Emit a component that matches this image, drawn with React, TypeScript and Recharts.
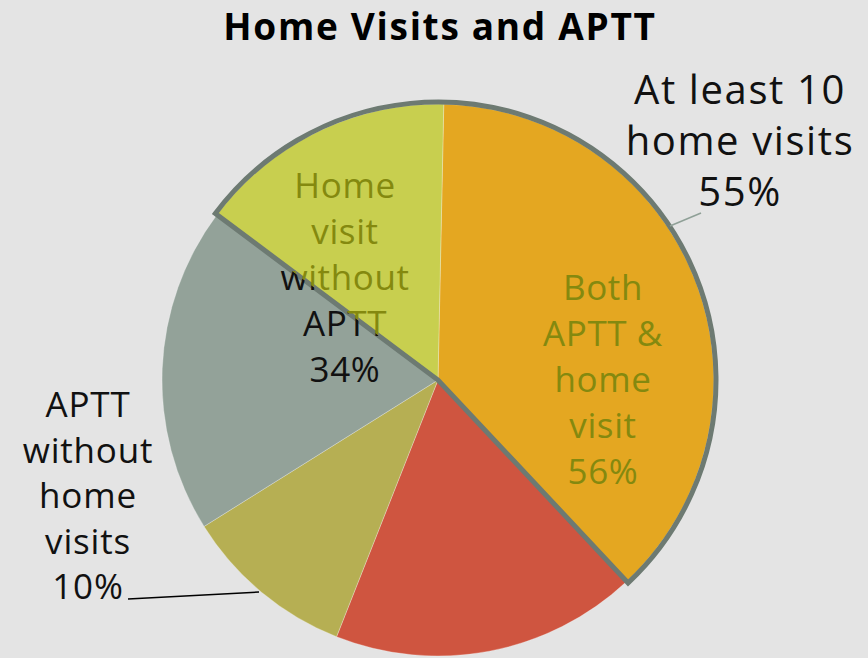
import React from "react";
import { PieChart, Pie, Cell } from "recharts";

// slices, clockwise from 12 o'clock (share of the circle)
const sliceNames = [
  "Both APTT & home visit",
  "Other",
  "APTT without home visits",
  "No APTT",
  "Home visit without APTT",
];
const sliceValues = [37.7, 17.9, 10.1, 19.1, 15.1];
const sliceColors = ["#E4A721", "#CF5540", "#B6AF53", "#93A299", "#C8CF4F"];

// outlined group: "At least 10 home visits"
const groupNames = ["At least 10 home visits", "rest"];
const groupValues = [52.8, 47.2];

const title = "Home Visits and APTT";
const labelBoth = ["Both", "APTT &", "home", "visit", "56%"];
const labelHomeOnly = ["Home", "visit", "without", "APTT", "34%"];
const labelApttOnly = ["APTT", "without", "home", "visits", "10%"];
const labelGroup = ["At least 10", "home visits", "55%"];

const W = 868;
const H = 658;
const CX = 438;
const CY = 380;
const R = 276;
const START = 88.8;

const FONT = "'Open Sans', 'DejaVu Sans', sans-serif";
const OLIVE = "#84890F";
const OUTLINE = "#6D7A72";

const slices = sliceNames.map((name, i) => ({ name, value: sliceValues[i] }));
const group = groupNames.map((name, i) => ({ name, value: groupValues[i] }));

const total = sliceValues.reduce((a, b) => a + b, 0);
// start of the outlined group = start of the last slice
const groupStart = START - (sliceValues.slice(0, 4).reduce((a, b) => a + b, 0) / total) * 360;

const Lines = ({ lines, x, y, step, size, fill, spacing = 0 }: any) => (
  <>
    {lines.map((t: string, i: number) => (
      <text
        key={i}
        x={x}
        y={y + i * step}
        textAnchor="middle"
        fontFamily={FONT}
        fontSize={size}
        letterSpacing={spacing}
        fill={fill}
      >
        {t}
      </text>
    ))}
  </>
);

const Overlay = () => {
  const a = (groupStart * Math.PI) / 180;
  const d = [Math.cos(a), -Math.sin(a)];
  const n = [Math.cos(a + Math.PI / 2), -Math.sin(a + Math.PI / 2)];
  const poly = (s: number) => {
    const A = [CX + d[0] * 2000, CY + d[1] * 2000];
    const B = [CX - d[0] * 2000, CY - d[1] * 2000];
    const C = [B[0] + s * n[0] * 2000, B[1] + s * n[1] * 2000];
    const D = [A[0] + s * n[0] * 2000, A[1] + s * n[1] * 2000];
    return [A, B, C, D].map((p) => p.join(",")).join(" ");
  };
  return (
    <svg
      width={W}
      height={H}
      style={{ position: "absolute", left: 0, top: 0, pointerEvents: "none" }}
    >
      <defs>
        <clipPath id="outside">
          <polygon points={poly(1)} />
        </clipPath>
        <clipPath id="inside">
          <polygon points={poly(-1)} />
        </clipPath>
      </defs>
      <text
        x={440}
        y={40}
        textAnchor="middle"
        fontFamily={FONT}
        fontWeight="bold"
        fontSize={37}
        letterSpacing={1.7}
        fill="#000"
      >
        {title}
      </text>
      <Lines lines={labelBoth} x={603} y={300} step={46} size={35} spacing={0.6} fill={OLIVE} />
      <g clipPath="url(#outside)">
        <Lines lines={labelHomeOnly} x={345} y={198} step={46} size={35} spacing={0.6} fill="#111" />
      </g>
      <g clipPath="url(#inside)">
        <Lines lines={labelHomeOnly} x={345} y={198} step={46} size={35} spacing={0.6} fill={OLIVE} />
      </g>
      <Lines lines={labelApttOnly} x={88} y={417} step={45.5} size={35} spacing={0.8} fill="#111" />
      <Lines lines={labelGroup} x={740} y={104} step={51} size={40} spacing={1.6} fill="#111" />
      <line x1={128} y1={599} x2={259} y2={592} stroke="#000" strokeWidth={1.5} />
      <line x1={670} y1={226} x2={701} y2={213} stroke="#8FA097" strokeWidth={1.5} />
    </svg>
  );
};

export default function App() {
  return (
    <div
      style={{
        position: "absolute",
        left: 0,
        top: 0,
        width: W,
        height: H,
        background: "#E4E4E4",
      }}
    >
      <PieChart width={W} height={H} margin={{ top: 0, right: 0, bottom: 0, left: 0 }}>
        <Pie
          data={slices}
          dataKey="value"
          nameKey="name"
          cx={CX}
          cy={CY}
          outerRadius={R}
          startAngle={START}
          endAngle={START - 360}
          stroke="rgba(255,255,255,0.35)"
          strokeWidth={0.8}
          isAnimationActive={false}
        >
          {slices.map((s, i) => (
            <Cell key={s.name} fill={sliceColors[i]} />
          ))}
        </Pie>
        <Pie
          data={group}
          dataKey="value"
          nameKey="name"
          cx={CX}
          cy={CY}
          outerRadius={R + 2}
          startAngle={groupStart}
          endAngle={groupStart - 360}
          fill="none"
          isAnimationActive={false}
        >
          {group.map((g, i) => (
            <Cell
              key={g.name}
              fill="none"
              stroke={i === 0 ? OUTLINE : "none"}
              strokeWidth={i === 0 ? 5 : 0}
              strokeLinejoin="miter"
            />
          ))}
        </Pie>
      </PieChart>
      <Overlay />
    </div>
  );
}
